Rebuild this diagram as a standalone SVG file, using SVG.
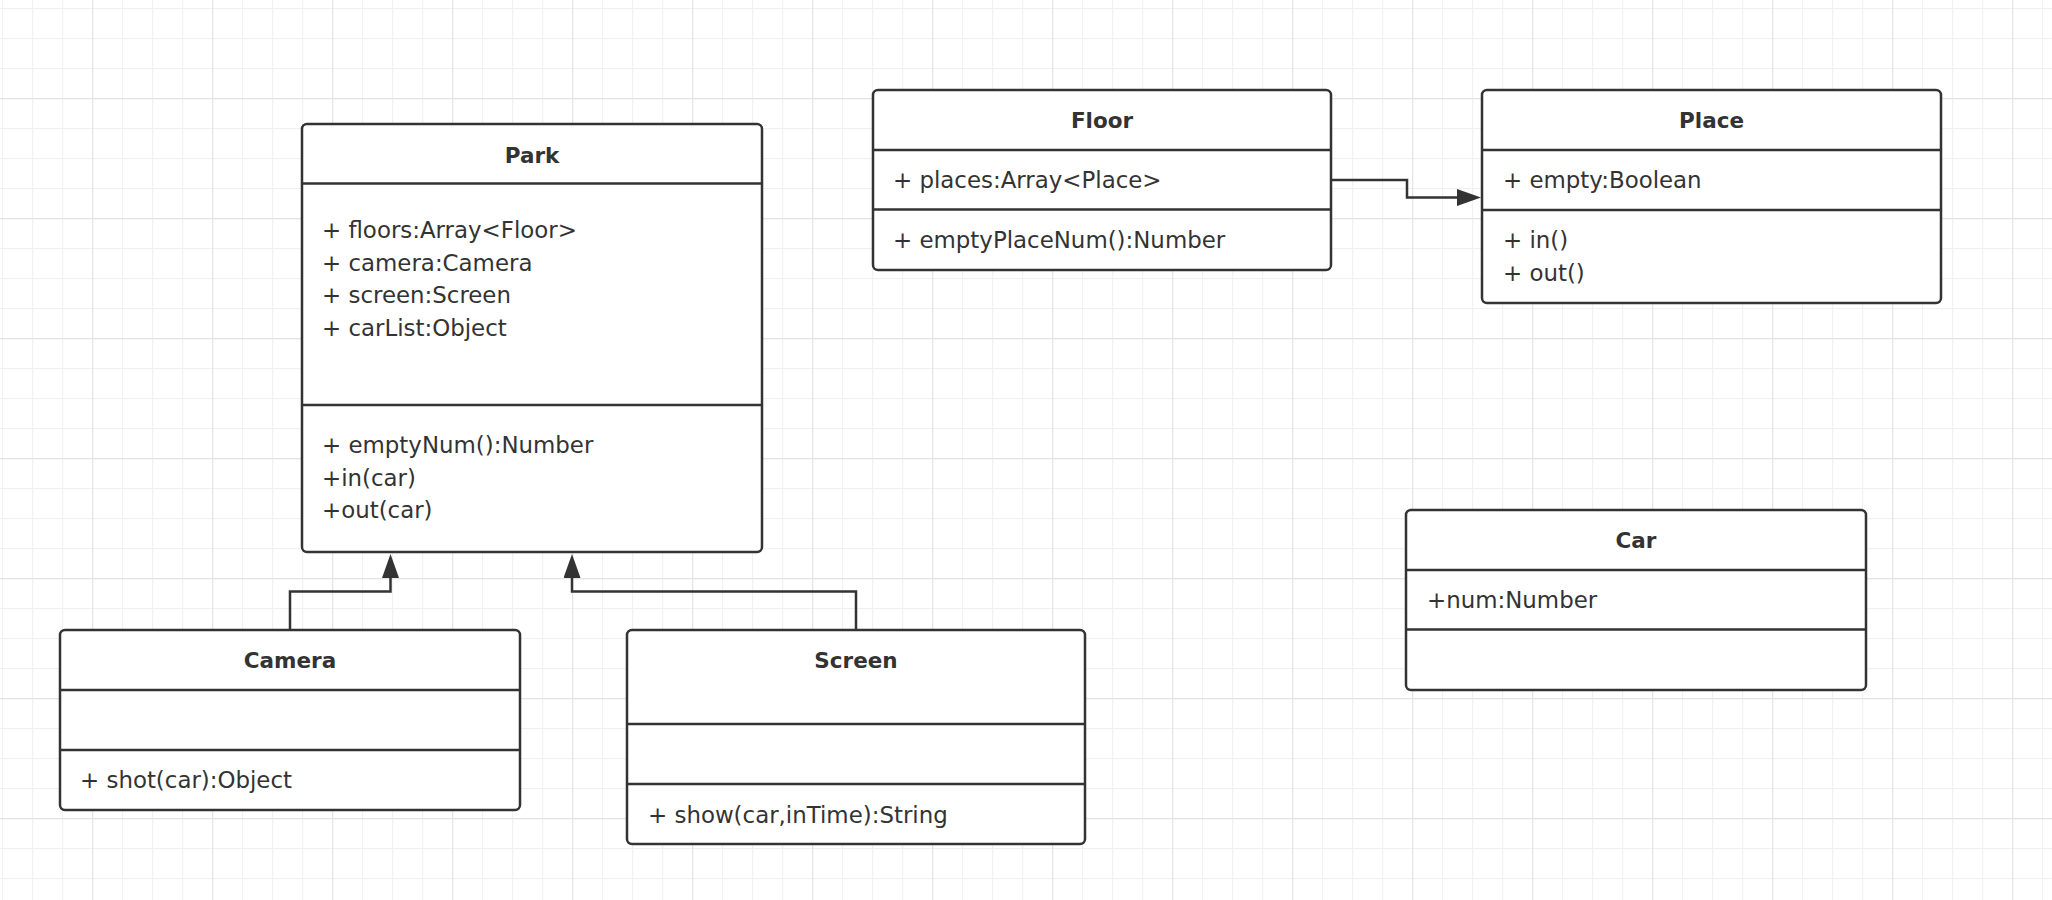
<svg xmlns="http://www.w3.org/2000/svg" width="2052" height="900" viewBox="0 0 2052 900">
<defs>
<pattern id="gridMinor" patternUnits="userSpaceOnUse" x="2" y="8" width="30" height="30">
<path d="M0.5 0V30M0 0.5H30" fill="none" stroke="#f1f1f1" stroke-width="1.3"/>
</pattern>
<pattern id="gridMajor" patternUnits="userSpaceOnUse" x="92" y="98" width="120" height="120">
<path d="M0.5 0V120M0 0.5H120" fill="none" stroke="#e4e4e4" stroke-width="1.3"/>
</pattern>
<marker id="arrow" markerUnits="userSpaceOnUse" viewBox="0 0 24 17" refX="0" refY="8.5" markerWidth="24" markerHeight="17" orient="auto">
<path d="M0 0L24 8.5L0 17Z" fill="#333"/>
</marker>
</defs>
<style>
.box{fill:#fff;stroke:#333;stroke-width:2.5}
.div{stroke:#333;stroke-width:2.5}
.title{font-family:"DejaVu Sans",sans-serif;font-weight:bold;font-size:21.5px;fill:#333;text-anchor:middle}
.txt{font-family:"DejaVu Sans",sans-serif;font-size:22.9px;fill:#333}
.conn{fill:none;stroke:#333;stroke-width:2.5}
</style>
<rect width="2052" height="900" fill="#fff"/>
<rect width="2052" height="900" fill="url(#gridMinor)"/>
<rect width="2052" height="900" fill="url(#gridMajor)"/>

<g id="connectors">
<path class="conn" d="M290 630V591.5H390.5V578" marker-end="url(#arrow)"/>
<path class="conn" d="M856 630V591.5H572V578" marker-end="url(#arrow)"/>
<path class="conn" d="M1331 180H1407V197.5H1457" marker-end="url(#arrow)"/>
</g>

<g id="Park">
<rect class="box" x="302" y="124" width="460" height="428" rx="5"/>
<line class="div" x1="302" y1="183.5" x2="762" y2="183.5"/>
<line class="div" x1="302" y1="405" x2="762" y2="405"/>
<text class="title" x="532" y="163">Park</text>
<text class="txt" x="322" y="238">+ floors:Array&lt;Floor&gt;</text>
<text class="txt" x="322" y="271">+ camera:Camera</text>
<text class="txt" x="322" y="303">+ screen:Screen</text>
<text class="txt" x="322" y="336">+ carList:Object</text>
<text class="txt" x="322" y="453">+ emptyNum():Number</text>
<text class="txt" x="322" y="486">+in(car)</text>
<text class="txt" x="322" y="518">+out(car)</text>
</g>

<g id="Floor">
<rect class="box" x="873" y="90" width="458" height="180" rx="5"/>
<line class="div" x1="873" y1="150" x2="1331" y2="150"/>
<line class="div" x1="873" y1="209.5" x2="1331" y2="209.5"/>
<text class="title" x="1102" y="128">Floor</text>
<text class="txt" x="893" y="188">+ places:Array&lt;Place&gt;</text>
<text class="txt" x="893" y="248">+ emptyPlaceNum():Number</text>
</g>

<g id="Place">
<rect class="box" x="1482" y="90" width="459" height="213" rx="5"/>
<line class="div" x1="1482" y1="150" x2="1941" y2="150"/>
<line class="div" x1="1482" y1="210" x2="1941" y2="210"/>
<text class="title" x="1711.5" y="128">Place</text>
<text class="txt" x="1503" y="188">+ empty:Boolean</text>
<text class="txt" x="1503" y="248">+ in()</text>
<text class="txt" x="1503" y="281">+ out()</text>
</g>

<g id="Camera">
<rect class="box" x="60" y="630" width="460" height="180" rx="5"/>
<line class="div" x1="60" y1="690" x2="520" y2="690"/>
<line class="div" x1="60" y1="750" x2="520" y2="750"/>
<text class="title" x="290" y="668">Camera</text>
<text class="txt" x="80" y="788">+ shot(car):Object</text>
</g>

<g id="Screen">
<rect class="box" x="627" y="630" width="458" height="214" rx="5"/>
<line class="div" x1="627" y1="724" x2="1085" y2="724"/>
<line class="div" x1="627" y1="784" x2="1085" y2="784"/>
<text class="title" x="856" y="668">Screen</text>
<text class="txt" x="648" y="823">+ show(car,inTime):String</text>
</g>

<g id="Car">
<rect class="box" x="1406" y="510" width="460" height="180" rx="5"/>
<line class="div" x1="1406" y1="570" x2="1866" y2="570"/>
<line class="div" x1="1406" y1="629.5" x2="1866" y2="629.5"/>
<text class="title" x="1636" y="548">Car</text>
<text class="txt" x="1427" y="608">+num:Number</text>
</g>
</svg>
